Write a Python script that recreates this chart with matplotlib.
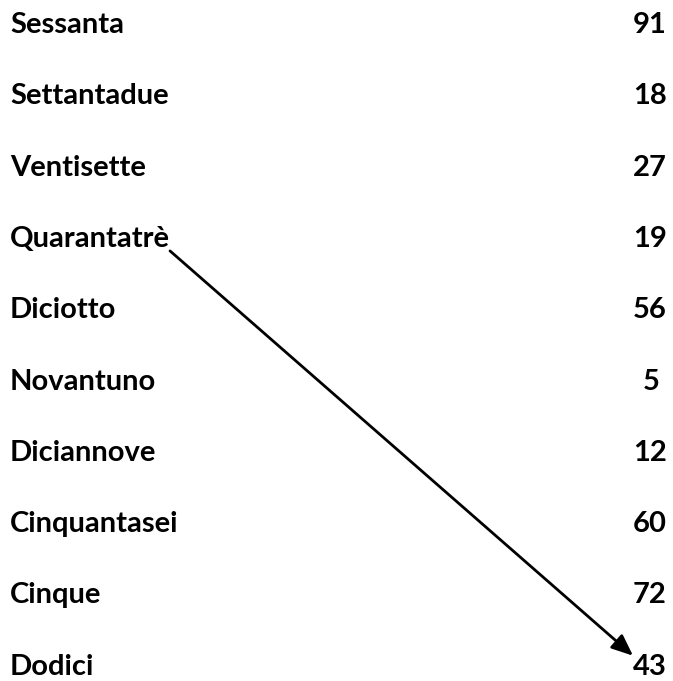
import matplotlib
matplotlib.use("Agg")
import matplotlib.pyplot as plt

# left column words, right column numbers (same row order as the sheet)
words = ["Sessanta", "Settantadue", "Ventisette", "Quarantatrè", "Diciotto",
         "Novantuno", "Diciannove", "Cinquantasei", "Cinque", "Dodici"]
numbers = ["91", "18", "27", "19", "56", "5", "12", "60", "72", "43"]
# matched pairs drawn as arrows: (word index, number index)
links = [(3, 9)]

plt.rcParams['font.family'] = ['Lato', 'DejaVu Sans']

fig = plt.figure(figsize=(6.73, 6.81), dpi=100)
ax = fig.add_axes([0, 0, 1, 1])
ax.set_xlim(0, 673)
ax.set_ylim(681, 0)
ax.axis("off")

row_y = [25 + 71.3 * i for i in range(len(words))]

for i, w in enumerate(words):
    ax.text(10, row_y[i], w, fontsize=21, fontweight="bold", va="center", ha="left")
for i, n in enumerate(numbers):
    ax.text(667 if len(n) > 1 else 660, row_y[i], n, fontsize=21,
            fontweight="bold", va="center", ha="right")

for wi, ni in links:
    ax.annotate("", xy=(633, row_y[ni] - 11), xytext=(170, row_y[wi] + 12),
                arrowprops=dict(arrowstyle="-|>,head_length=1.3,head_width=0.55",
                                color="black", lw=2, shrinkA=0, shrinkB=0))

fig.savefig("out.png", dpi=100)
